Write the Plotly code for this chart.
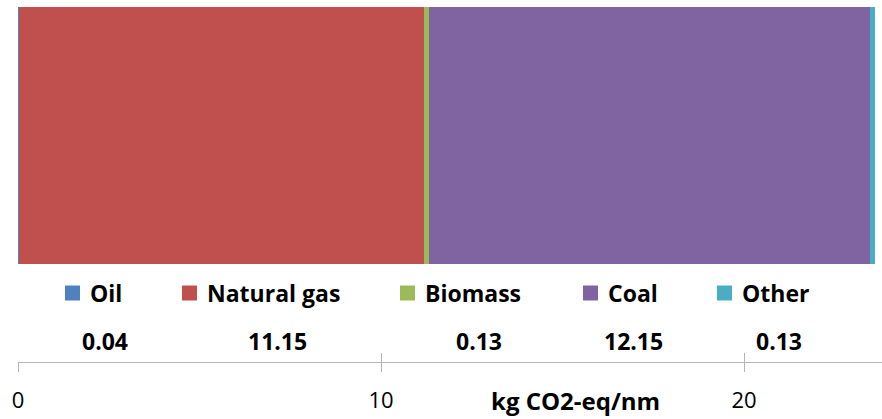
import plotly.graph_objects as go

# ---- data ----
categories = ["Oil", "Natural gas", "Biomass", "Coal", "Other"]
values = [0.04, 11.15, 0.13, 12.15, 0.13]
colors = ["#4F81BD", "#C0504D", "#9BBB59", "#8064A2", "#4BACC6"]
tick_vals = [0, 10, 20]
tick_text = ["0", "10", "20"]
axis_title = "kg CO2-eq/nm"

# ---- layout geometry (pixels) ----
W, H = 882, 419
ML, MR, MT, MB = 18, 0, 7, 57
PW, PH = W - ML - MR, H - MT - MB
X_MAX = 23.8

def px(x):
    return (x - ML) / PW

def py(y):
    return (H - MB - y) / PH

FONT = "Open Sans"

fig = go.Figure()
for name, v, c in zip(categories, values, colors):
    fig.add_trace(go.Bar(
        x=[v], y=[0], orientation="h", name=name, width=1,
        marker=dict(color=c, line=dict(width=0)),
        showlegend=False, hoverinfo="skip",
    ))

# invisible trace to host the second (inside-tick) axis
fig.add_trace(go.Scatter(x=[0], y=[0], xaxis="x2", mode="markers",
                         marker=dict(opacity=0), showlegend=False, hoverinfo="skip"))

# bar spans y 7..264 px, axis line at 362 px
bar_top_px, bar_bot_px = 7, 264
unit = (bar_bot_px - bar_top_px)  # px per y unit
y_low = -0.5 - ((H - MB) - bar_bot_px) / unit

axis_color = "#b4b4b4"
fig.update_layout(
    width=W, height=H,
    margin=dict(l=ML, r=MR, t=MT, b=MB, pad=0),
    paper_bgcolor="white", plot_bgcolor="white",
    barmode="stack", bargap=0,
    showlegend=False,
    xaxis=dict(range=[0, X_MAX], tickvals=tick_vals, ticktext=tick_text,
               showgrid=False, zeroline=False, showline=True,
               linecolor=axis_color, linewidth=1,
               ticks="outside", ticklen=9, tickcolor=axis_color, tickwidth=1,
               tickfont=dict(family=FONT, size=22, color="#000000"),
               ticklabelstandoff=10, fixedrange=True),
    xaxis2=dict(range=[0, X_MAX], overlaying="x", anchor="y", side="bottom",
                tickvals=tick_vals, showticklabels=False,
                showgrid=False, zeroline=False, showline=False,
                ticks="inside", ticklen=9, tickcolor=axis_color, tickwidth=1,
                fixedrange=True),
    yaxis=dict(range=[y_low, 0.5], visible=False, fixedrange=True),
)

# axis title
fig.add_annotation(text="<b>%s</b>" % axis_title, x=px(575), y=py(400),
                   xref="paper", yref="paper", showarrow=False,
                   xanchor="center", yanchor="middle",
                   font=dict(family=FONT, size=24, color="#000000"))

# manual legend
legend_text_x = [90, 207, 425, 608, 742]
legend_y = 293
sq = 15
for name, c, tx in zip(categories, colors, legend_text_x):
    x0 = tx - 25
    fig.add_shape(type="rect", xref="paper", yref="paper",
                  x0=px(x0), x1=px(x0 + sq),
                  y0=py(legend_y + sq / 2), y1=py(legend_y - sq / 2),
                  fillcolor=c, line=dict(width=0))
    fig.add_annotation(text="<b>%s</b>" % name, x=px(tx - 2), y=py(legend_y),
                       xref="paper", yref="paper", showarrow=False,
                       xanchor="left", yanchor="middle",
                       font=dict(family=FONT, size=23, color="#000000"))

# value row
value_x = [105, 277, 479, 633, 779]
for v, vx in zip(values, value_x):
    fig.add_annotation(text="<b>%.2f</b>" % v, x=px(vx), y=py(341),
                       xref="paper", yref="paper", showarrow=False,
                       xanchor="center", yanchor="middle",
                       font=dict(family=FONT, size=23, color="#000000"))

fig.write_html("out.html", config={"displayModeBar": False, "staticPlot": True},
               post_script="document.body.style.margin='0';document.body.style.overflow='hidden';")
